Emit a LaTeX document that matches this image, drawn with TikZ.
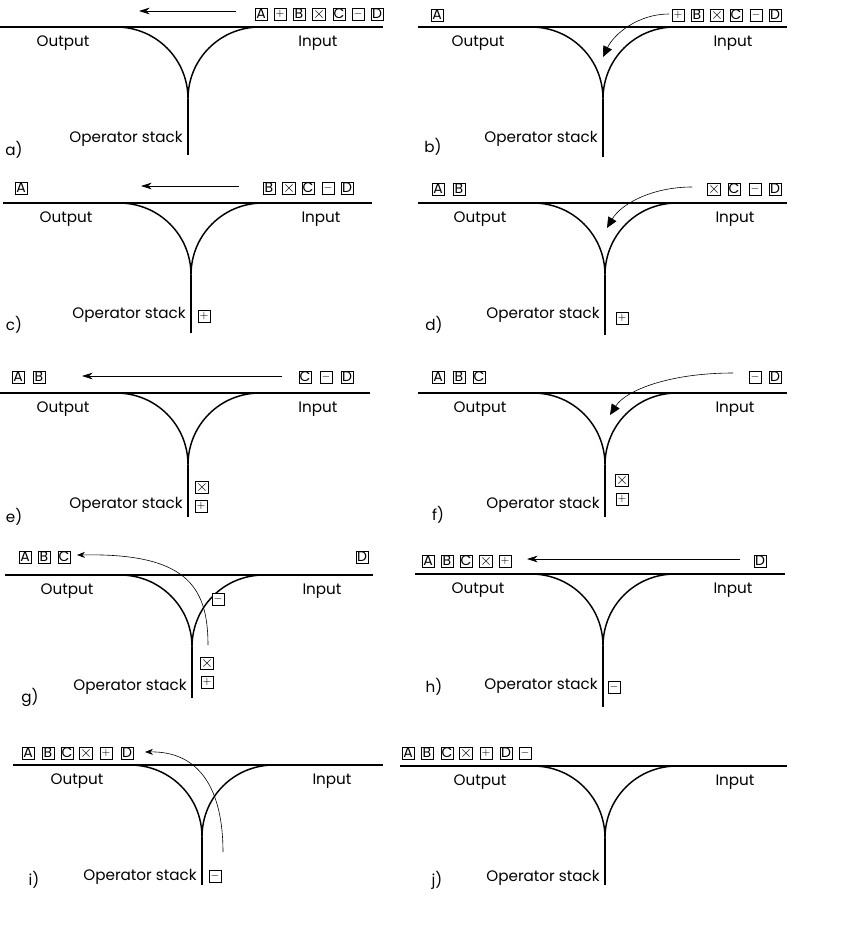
\documentclass[tikz,border=0pt]{standalone}
\usepackage{fontspec}
\setmainfont{Poppins}
\usetikzlibrary{arrows.meta}
\tikzset{
  track/.style={line width=1.1pt, line cap=butt},
  lbl/.style={inner sep=0pt, font=\fontsize{11.4}{13}\selectfont},
  sym/.style={draw, line width=0.45pt, inner sep=0pt, minimum size=9.2pt, font=\fontsize{10.5}{10.5}\selectfont},
  flow/.style={line width=0.55pt, -{Stealth[length=8pt,width=5pt]}},
  push/.style={line width=0.45pt, -{Triangle[length=8pt,width=7pt]}},
  pop/.style={line width=0.45pt, -{Stealth[length=6pt,width=4.5pt,inset=2pt]}},
}
\newcommand\trackpanel[6]{%
  \coordinate (#1L) at (#4,#3);
  \coordinate (#1R) at (#5,#3);
  \coordinate (#1J) at (#2,#3+72);
  \coordinate (#1B) at (#2,#6);
  \coordinate (#1AL) at (#2-72,#3);
  \coordinate (#1AR) at (#2+72,#3);
  \draw[track] (#1L) -- (#1R);
  \draw[track] (#1AL) .. controls (#2-32,#3) and (#2,#3+32) .. (#1J)
    .. controls (#2,#3+32) and (#2+32,#3) .. (#1AR);
  \draw[track] (#1J) -- (#1B);
  \node[lbl] (#1out) at (#2-125,#3+16) {Output};
  \node[lbl] (#1in) at (#2+130,#3+16) {Input};
  \node[lbl,anchor=east] (#1op) at (#2-5,#3+112) {Operator stack};
}
\newcommand\Pl{{\fontsize{8.5}{8.5}\selectfont$+$}}
\newcommand\Mi{{\fontsize{8.5}{8.5}\selectfont$-$}}
\newcommand\Ti{{\fontsize{12}{12}\selectfont$\times$}}
\begin{document}
\begin{tikzpicture}[x=0.75pt,y=-0.75pt]
\useasboundingbox (0,0) rectangle (858,926);

% ---------- a ----------
\trackpanel{a}{188}{27}{0}{383}{155}
\node[lbl] (alab) at (14,150) {a)};
\node[sym] (aA) at (261,14) {A};
\node[sym] (aP) at (280,14) {\Pl};
\node[sym] (aB) at (299,14) {B};
\node[sym] (aT) at (319,14) {\Ti};
\node[sym] (aC) at (339,14) {C};
\node[sym] (aM) at (358,14) {\Mi};
\node[sym] (aD) at (377,14) {D};
\coordinate (as) at (236,11);
\coordinate (ae) at (139,11);
\draw[flow] (as) -- (ae);

% ---------- b ----------
\trackpanel{b}{603}{27}{418}{787}{157}
\node[lbl] (blab) at (433,147) {b)};
\node[sym] (bA) at (437,15) {A};
\node[sym] (bP) at (678,15) {\Pl};
\node[sym] (bB) at (697,15) {B};
\node[sym] (bT) at (717,15) {\Ti};
\node[sym] (bC) at (736,15) {C};
\node[sym] (bM) at (756,15) {\Mi};
\node[sym] (bD) at (775,15) {D};
\coordinate (bs) at (669,14);
\coordinate (be) at (603,57);
\draw[push] (bs) .. controls (638,14) and (614,34) .. (be);

% ---------- c ----------
\trackpanel{c}{191}{203}{3}{372}{333}
\node[lbl] (clab) at (14,325) {c)};
\node[sym] (cA) at (21,188) {A};
\node[sym] (cB) at (269,188) {B};
\node[sym] (cT) at (289,188) {\Ti};
\node[sym] (cC) at (308,188) {C};
\node[sym] (cM) at (328,188) {\Mi};
\node[sym] (cD) at (347,188) {D};
\node[sym] (cP) at (204,316) {\Pl};
\coordinate (cs) at (239,186);
\coordinate (ce) at (141,186);
\draw[flow] (cs) -- (ce);

% ---------- d ----------
\trackpanel{d}{605}{203}{418}{787}{335}
\node[lbl] (dlab) at (434,325) {d)};
\node[sym] (dA) at (438,189) {A};
\node[sym] (dB) at (459,189) {B};
\node[sym] (dT) at (714,189) {\Ti};
\node[sym] (dC) at (734,189) {C};
\node[sym] (dM) at (755,189) {\Mi};
\node[sym] (dD) at (775,189) {D};
\node[sym] (dP) at (622,318) {\Pl};
\coordinate (ds) at (692,187);
\coordinate (de) at (607,228);
\draw[push] (ds) .. controls (652,187) and (621,204) .. (de);

% ---------- e ----------
\trackpanel{e}{188}{393}{0}{370}{517}
\node[lbl] (elab) at (14,517) {e)};
\node[sym] (eA) at (18,377) {A};
\node[sym] (eB) at (39,377) {B};
\node[sym] (eC) at (305,377) {C};
\node[sym] (eM) at (326,377) {\Mi};
\node[sym] (eD) at (347,377) {D};
\node[sym] (eT) at (202,487) {\Ti};
\node[sym] (eP) at (201,506) {\Pl};
\coordinate (es) at (282,376);
\coordinate (ee) at (82,376);
\draw[flow] (es) -- (ee);

% ---------- f ----------
\trackpanel{f}{605}{393}{418}{787}{517}
\node[lbl] (flab) at (438,515) {f)};
\node[sym] (fA) at (438,377) {A};
\node[sym] (fB) at (459,377) {B};
\node[sym] (fC) at (479,377) {C};
\node[sym] (fM) at (755,377) {\Mi};
\node[sym] (fD) at (775,377) {D};
\node[sym] (fT) at (622,480) {\Ti};
\node[sym] (fP) at (622,499) {\Pl};
\coordinate (fs) at (733,373);
\coordinate (fe) at (610,415);
\draw[push] (fs) .. controls (670,373) and (626,390) .. (fe);

% ---------- g ----------
\trackpanel{g}{192}{575}{5}{373}{698}
\node[lbl] (glab) at (30,697) {g)};
\node[sym] (gA) at (25,557) {A};
\node[sym] (gB) at (44,557) {B};
\node[sym] (gC) at (64,557) {C};
\node[sym] (gD) at (362,557) {D};
\node[sym,fill=white] (gM) at (218,599) {\Mi};
\node[sym] (gT) at (207,663) {\Ti};
\node[sym] (gP) at (207,682) {\Pl};
\coordinate (gs) at (208,645);
\coordinate (ge) at (77,555);
\draw[pop] (gs) .. controls (208,585) and (185,553) .. (ge);

% ---------- h ----------
\trackpanel{h}{603}{574}{415}{785}{707}
\node[lbl] (hlab) at (434,687) {h)};
\node[sym] (hA) at (428,561) {A};
\node[sym] (hB) at (447,561) {B};
\node[sym] (hC) at (466,561) {C};
\node[sym] (hT) at (486,561) {\Ti};
\node[sym] (hP) at (505,561) {\Pl};
\node[sym] (hD) at (760,561) {D};
\node[sym] (hM) at (614,687) {\Mi};
\coordinate (hs) at (740,559);
\coordinate (he) at (527,559);
\draw[flow] (hs) -- (he);

% ---------- i ----------
\trackpanel{i}{202}{765}{13}{383}{885}
\node[lbl] (ilab) at (34,880) {i)};
\node[sym] (iA) at (28,753) {A};
\node[sym] (iB) at (48,753) {B};
\node[sym] (iC) at (67,753) {C};
\node[sym] (iT) at (86,753) {\Ti};
\node[sym] (iP) at (106,753) {\Pl};
\node[sym] (iD) at (127,753) {D};
\node[sym] (iM) at (215,876) {\Mi};
\coordinate (is) at (223,852);
\coordinate (ie) at (145,752);
\draw[pop] (is) .. controls (223,790) and (200,751) .. (ie);

% ---------- j ----------
\trackpanel{j}{605}{766}{400}{787}{885}
\node[lbl] (jlab) at (437,880) {j)};
\node[sym] (jA) at (408,753) {A};
\node[sym] (jB) at (427,753) {B};
\node[sym] (jC) at (447,753) {C};
\node[sym] (jT) at (466,753) {\Ti};
\node[sym] (jP) at (486,753) {\Pl};
\node[sym] (jD) at (506,753) {D};
\node[sym] (jM) at (525,753) {\Mi};
\end{tikzpicture}
\end{document}
